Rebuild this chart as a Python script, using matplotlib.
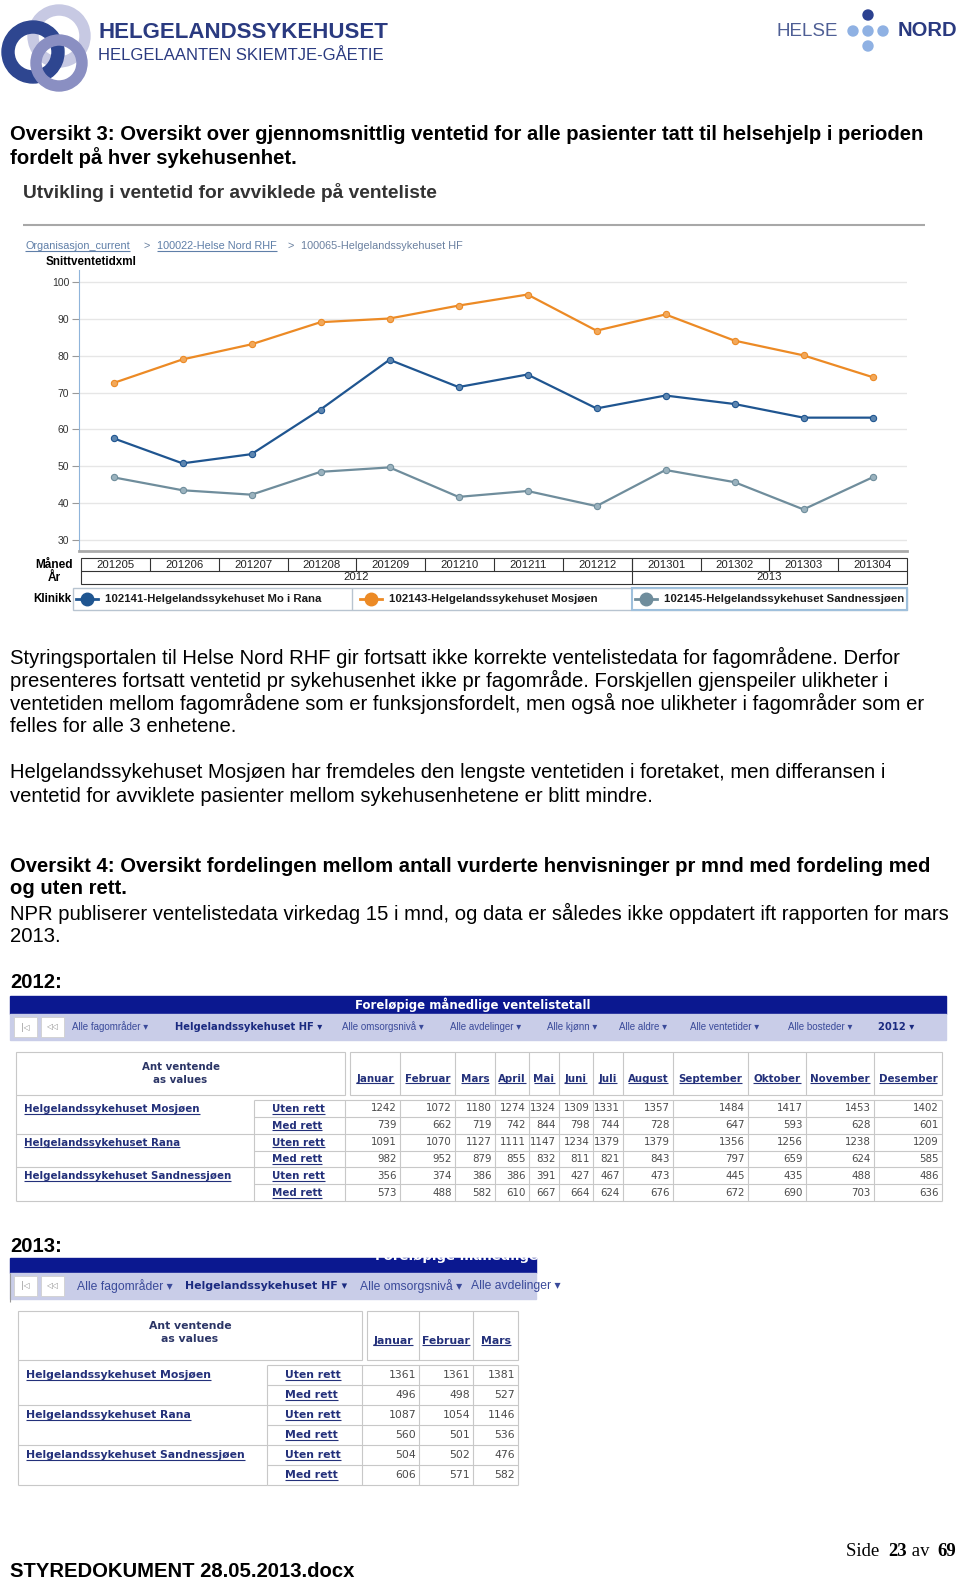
import numpy as np
import matplotlib
matplotlib.use('Agg')
import matplotlib.pyplot as plt
from matplotlib.patches import Wedge, Rectangle, Circle

SANS = ['Liberation Sans', 'DejaVu Sans']
VERD = ['DejaVu Sans']
SERIF = ['Liberation Serif', 'DejaVu Serif']
plt.rcParams['font.family'] = SANS

# ---- chart data (Snittventetid) ----
chart_months = ['201205', '201206', '201207', '201208', '201209', '201210',
                '201211', '201212', '201301', '201302', '201303', '201304']
chart_years = ['2012', '2013']
chart_year_span = [8, 4]
rana = [57.6, 50.8, 53.3, 65.4, 78.9, 71.5, 74.9, 65.7, 69.2, 66.9, 63.2, 63.2]
mosjoen = [72.6, 79.0, 83.1, 89.1, 90.1, 93.6, 96.6, 86.8, 91.2, 84.1, 80.1, 74.2]
sandnessjoen = [47.0, 43.5, 42.3, 48.5, 49.7, 41.7, 43.3, 39.2, 49.0, 45.7, 38.3, 47.0]
legend_labels = ['102141-Helgelandssykehuset Mo i Rana',
                 '102143-Helgelandssykehuset Mosjøen',
                 '102145-Helgelandssykehuset Sandnessjøen']

# ---- table data (Ant ventende) ----
hospitals = ['Helgelandssykehuset Mosjøen', 'Helgelandssykehuset Rana',
             'Helgelandssykehuset Sandnessjøen']
rights = ['Uten rett', 'Med rett']
months_2012 = ['Januar', 'Februar', 'Mars', 'April', 'Mai', 'Juni', 'Juli',
               'August', 'September', 'Oktober', 'November', 'Desember']
months_2013 = ['Januar', 'Februar', 'Mars']
vals_2012 = [
    [1242, 1072, 1180, 1274, 1324, 1309, 1331, 1357, 1484, 1417, 1453, 1402],
    [739, 662, 719, 742, 844, 798, 744, 728, 647, 593, 628, 601],
    [1091, 1070, 1127, 1111, 1147, 1234, 1379, 1379, 1356, 1256, 1238, 1209],
    [982, 952, 879, 855, 832, 811, 821, 843, 797, 659, 624, 585],
    [356, 374, 386, 386, 391, 427, 467, 473, 445, 435, 488, 486],
    [573, 488, 582, 610, 667, 664, 624, 676, 672, 690, 703, 636],
]
vals_2013 = [
    [1361, 1361, 1381],
    [496, 498, 527],
    [1087, 1054, 1146],
    [560, 501, 536],
    [504, 502, 476],
    [606, 571, 582],
]
toolbar_2012 = ['Alle fagområder', 'Helgelandssykehuset HF', 'Alle omsorgsnivå',
                'Alle avdelinger', 'Alle kjønn', 'Alle aldre', 'Alle ventetider',
                'Alle bosteder', '2012']
toolbar_2013 = ['Alle fagområder', 'Helgelandssykehuset HF', 'Alle omsorgsnivå',
                'Alle avdelinger']

NAVY = '#23307a'

fig = plt.figure(figsize=(9.6, 15.8), dpi=100)
pa = fig.add_axes([0, 0, 1, 1])
pa.set_xlim(0, 960)
pa.set_ylim(1580, 0)
pa.axis('off')
R = fig.canvas.get_renderer()


def tx(x, y, s, size, color='black', weight='normal', ha='left', va='center',
       family=SANS, **kw):
    return pa.text(x, y, s, fontsize=size, color=color, fontweight=weight,
                   ha=ha, va=va, family=family, **kw)


def utx(x, y, s, size, color=NAVY, weight='bold', ha='left', family=VERD):
    # underlined text, y is baseline
    t = tx(x, y, s, size, color, weight, ha=ha, va='baseline', family=family)
    bb = t.get_window_extent(R)
    pa.plot([bb.x0, bb.x1], [y + 1.6, y + 1.6], color=color, lw=0.8,
            solid_capstyle='butt')
    return t


def hline(x0, x1, y, color='#c8c8c8', lw=0.8):
    pa.plot([x0, x1], [y, y], color=color, lw=lw, solid_capstyle='butt')


def vline(x, y0, y1, color='#c8c8c8', lw=0.8):
    pa.plot([x, x], [y0, y1], color=color, lw=lw, solid_capstyle='butt')


# ---- page header / logos ----
pa.add_patch(Wedge((59, 36), 31, 0, 360, width=10, color='#c7c9e3'))
pa.add_patch(Wedge((33, 52), 31, 0, 360, width=12, color='#2e4690'))
pa.add_patch(Wedge((59, 63), 28, 0, 360, width=10, color='#8a8fc2'))
tx(98, 32, 'HELGELANDSSYKEHUSET', 16, '#2a3a80', 'bold')
tx(98, 56, 'HELGELAANTEN SKIEMTJE-GÅETIE', 12, '#2a3a80')
tx(776, 31, 'HELSE', 13.5, '#4f5f95')
tx(898, 31, 'NORD', 14.5, '#2a3a80', 'bold')
pa.add_patch(Circle((868, 15), 5, color='#2c4190'))
for cx, cy in [(853, 31), (868, 31), (883, 31), (868, 46)]:
    pa.add_patch(Circle((cx, cy), 5, color='#8fb1e3'))

BODY = 14.6
tx(10, 134, 'Oversikt 3: Oversikt over gjennomsnittlig ventetid for alle pasienter tatt til helsehjelp i perioden',
   BODY, weight='bold')
tx(10, 158, 'fordelt på hver sykehusenhet.', BODY, weight='bold')

# ---- chart header ----
tx(23, 192, 'Utvikling i ventetid for avviklede på venteliste', 13.8, '#333333', 'bold')
hline(23, 925, 225, '#a8a8a8', 1.5)
LINK = '#5f7fa8'
utx(25, 249, 'Organisasjon_current', 7.8, LINK, 'normal', family=SANS)
tx(144, 246, '>', 7.8, '#6a80a0')
utx(157, 249, '100022-Helse Nord RHF', 7.8, LINK, 'normal', family=SANS)
tx(288, 246, '>', 7.8, '#6a80a0')
tx(301, 246, '100065-Helgelandssykehuset HF', 7.8, '#6a80a0')
tx(46, 262, 'Snittventetidxml', 8.4, 'black', 'bold')

# ---- chart axes ----
ax = fig.add_axes([79 / 960, 1 - 551 / 1580, (907 - 79) / 960, (551 - 270) / 1580])
ax.patch.set_alpha(0)
x = np.arange(len(chart_months))
ax.set_xlim(-0.5, len(chart_months) - 0.5)
ax.set_ylim(27.02, 103.26)
ax.set_yticks(range(30, 101, 10))
ax.set_xticks([])
ax.yaxis.grid(True, color='#e6e6e6', lw=1)
ax.set_axisbelow(True)
for s in ['top', 'right']:
    ax.spines[s].set_visible(False)
ax.spines['left'].set_color('#8fb4da')
ax.spines['bottom'].set_color('#aaaaaa')
ax.spines['bottom'].set_linewidth(2)
ax.tick_params(axis='y', length=5, color='#999999', labelsize=7.5,
               labelcolor='#333333', pad=2)

series = [(rana, '#1f5590', '#5d86b0'),
          (mosjoen, '#ec8a25', '#f2a85a'),
          (sandnessjoen, '#6f8d9c', '#9ab2be')]
for vals, c, mfc in series:
    ax.plot(x, vals, color=c, lw=1.6, marker='o', ms=4.5, mfc=mfc, mec=c, mew=0.8)

# ---- month / year table under chart ----
t0, t1 = 81, 907
cw = (t1 - t0) / len(chart_months)
pa.add_patch(Rectangle((t0, 558), t1 - t0, 26, fill=False, ec='#333333', lw=0.8))
hline(t0, t1, 571, '#333333')
for i, m in enumerate(chart_months):
    if i > 0:
        vline(t0 + i * cw, 558, 571, '#333333')
    tx(t0 + (i + 0.5) * cw, 564.5, m, 8.2, '#222222', ha='center')
start = 0
for yr, span in zip(chart_years, chart_year_span):
    if start > 0:
        vline(t0 + start * cw, 558, 584, '#333333')
    tx(t0 + (start + span / 2) * cw, 577.5, yr, 8.2, '#222222', ha='center')
    start += span
tx(73, 565, 'Måned', 8.6, 'black', 'bold', ha='right')
tx(54, 578, 'År', 8.6, 'black', 'bold', ha='center')

# legend row
tx(33, 599, 'Klinikk', 8.4, 'black', 'bold')
pa.add_patch(Rectangle((73, 588), 907 - 73, 22, fill=False, ec='#b8c4d0', lw=1))
vline(352, 588, 610, '#b8c4d0', 1)
pa.add_patch(Rectangle((632, 588), 907 - 632, 22, fill=False, ec='#9fc0dc', lw=1.5))
for (vals, c, mfc), lab, lx in zip(series, legend_labels, [76, 360, 635]):
    pa.plot([lx, lx + 22], [599, 599], color=c, lw=2)
    pa.plot([lx + 11], [599], marker='o', ms=9, color=c)
    tx(lx + 29, 599, lab, 8.2, '#1a1a1a', 'bold')

# ---- paragraphs ----
para = [
    (657, 'Styringsportalen til Helse Nord RHF gir fortsatt ikke korrekte ventelistedata for fagområdene. Derfor', 'normal'),
    (680, 'presenteres fortsatt ventetid pr sykehusenhet ikke pr fagområde. Forskjellen gjenspeiler ulikheter i', 'normal'),
    (703, 'ventetiden mellom fagområdene som er funksjonsfordelt, men også noe ulikheter i fagområder som er', 'normal'),
    (726, 'felles for alle 3 enhetene.', 'normal'),
    (773, 'Helgelandssykehuset Mosjøen har fremdeles den lengste ventetiden i foretaket, men differansen i', 'normal'),
    (796, 'ventetid for avviklete pasienter mellom sykehusenhetene er blitt mindre.', 'normal'),
    (866, 'Oversikt 4: Oversikt fordelingen mellom antall vurderte henvisninger pr mnd med fordeling med', 'bold'),
    (889, 'og uten rett.', 'bold'),
    (913, 'NPR publiserer ventelistedata virkedag 15 i mnd, og data er således ikke oppdatert ift rapporten for mars', 'normal'),
    (936, '2013.', 'normal'),
    (982, '2012:', 'bold'),
    (1246, '2013:', 'bold'),
]
for yy, s, w in para:
    tx(10, yy, s, BODY, 'black', w)


# ---- screenshot tables ----
def toolbar(x0, x1, ybar, ytool, ybot, items, item_x, fs, fs_reg, clip=None):
    pa.add_patch(Rectangle((x0, ybar), x1 - x0, ytool - ybar, color='#0b1890'))
    pa.add_patch(Rectangle((x0, ytool), x1 - x0, ybot - ytool, color='#c9cde8'))
    yc = (ytool + ybot) / 2
    for bx, g in [(14, '|◁'), (41, '◁◁')]:
        pa.add_patch(Rectangle((bx, ytool + 3), 23, ybot - ytool - 6,
                               fc='white', ec='#d0d0d0', lw=0.6))
        tx(bx + 11.5, yc, g, 5.5, '#888888', ha='center', family=VERD)
    for i, (s, ix) in enumerate(zip(items, item_x)):
        bold = (i == 1 or s.isdigit())
        if bold:
            t = tx(ix, yc, s + ' ▾', fs, '#1a2a80', 'bold', family=VERD)
        else:
            t = tx(ix, yc, s + ' ▾', fs_reg, '#3a4a9a', 'normal', family=SANS)
        if clip is not None:
            t.set_clip_path(clip)


def data_table(x0, xh, xs, edges, yt, yh, yd, rh, months, vals, fs):
    x1 = edges[-1]
    grid = '#c8c8c8'
    # header
    pa.add_patch(Rectangle((x0, yt), xs - x0, yh - yt, fill=False, ec=grid, lw=0.8))
    pa.add_patch(Rectangle((edges[0], yt), x1 - edges[0], yh - yt, fill=False, ec=grid, lw=0.8))
    tx((x0 + xs) / 2, yt + 15, 'Ant ventende', fs, '#2b3566', 'bold', ha='center', family=VERD)
    tx((x0 + xs) / 2, yt + 28, 'as values', fs, '#2b3566', 'bold', ha='center', family=VERD)
    for j, m in enumerate(months):
        if j > 0:
            vline(edges[j], yt, yh, grid)
        utx((edges[j] + edges[j + 1]) / 2, (yt + yh) / 2 + 8, m, fs, ha='center')
    # body
    n = len(vals)
    yb = yd + n * rh
    vline(x0, yh, yb, grid)
    vline(xh, yd, yb, grid)
    vline(xs, yd, yb, grid)
    vline(x1, yd, yb, grid)
    for j in range(1, len(edges) - 1):
        vline(edges[j], yd, yb, grid)
    for i in range(n + 1):
        yy = yd + i * rh
        hline(xh, x1, yy, grid)
        if i % 2 == 0 and i > 0:
            hline(x0, xh, yy, grid)
    for hi, h in enumerate(hospitals):
        utx(x0 + 8, yd + (2 * hi + 0.5) * rh + 3.5, h, fs)
    for i, row in enumerate(vals):
        yc = yd + (i + 0.5) * rh
        utx(xh + 18, yc + 3.5, rights[i % 2], fs)
        for j, v in enumerate(row):
            tx(edges[j + 1] - 3, yc, str(v), fs, '#4a4a4a', ha='right', family=VERD)


toolbar(10, 946, 996, 1014, 1040, toolbar_2012,
        [72, 175, 342, 450, 547, 619, 690, 788, 878], 7.2, 7.0)
tx(473, 1005, 'Foreløpige månedlige ventelistetall', 8.5, 'white', 'bold',
   ha='center', family=VERD)
data_table(16, 254, 345, [350, 400, 455, 495, 529, 559, 593, 623, 673, 748, 806, 874, 942],
           1052, 1095, 1100, (1201 - 1100) / 6, months_2012, vals_2012, 7.4)

clip13 = Rectangle((10, 1258), 526, 41, transform=pa.transData)
toolbar(10, 536, 1258, 1273, 1299, toolbar_2013, [77, 185, 360, 471], 7.9, 8.7, clip=clip13)
vline(10, 1273, 1302, '#999999')
t13 = tx(375, 1256, 'Foreløpige månedlige ventelistetall', 9.5, 'white', 'bold', family=VERD)
t13.set_clip_path(clip13)
data_table(18, 267, 362, [367, 419, 473, 518], 1311, 1360, 1365, 20,
           months_2013, vals_2013, 7.85)

# ---- footer ----
fx = 846
for s, w in [('Side ', 'normal'), ('23', 'bold'), (' av ', 'normal'), ('69', 'bold')]:
    t = tx(fx, 1556, s, 13.5, 'black', w, va='baseline', family=SERIF)
    fx = t.get_window_extent(R).x1 + (4 if s.endswith(' ') else 0)
tx(10, 1577, 'STYREDOKUMENT 28.05.2013.docx', 14.6, 'black', 'bold', va='baseline')

fig.savefig('out.png', dpi=100)
